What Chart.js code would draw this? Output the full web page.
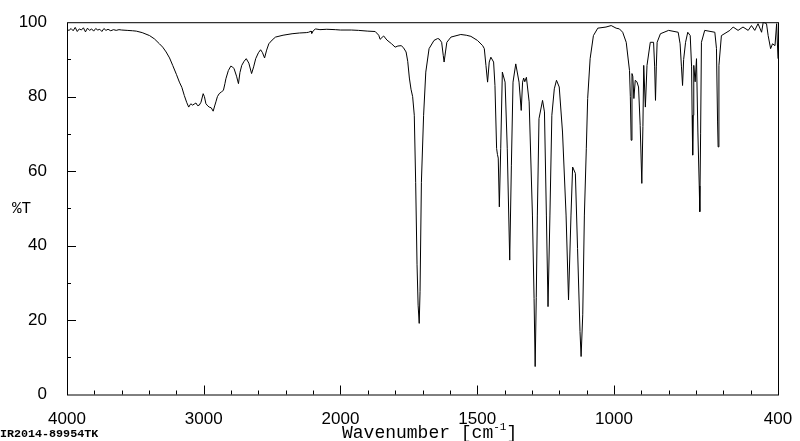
<!DOCTYPE html>
<html>
<head>
<meta charset="utf-8">
<script src="https://cdn.jsdelivr.net/npm/chart.js@4/dist/chart.umd.min.js"></script>
<style>
    body { margin: 0; background: #fff; }
    #wrap { position: relative; width: 800px; height: 441px; }
    .lbl { position: absolute; font-family: 'Liberation Mono', 'Courier New', monospace; color: #000; white-space: nowrap; }
    .lbl sup { font-size: 11px; position: relative; top: -1px; }
</style>
</head>
<body>
<div id="wrap">
    <canvas id="chart"></canvas>
    <div class="lbl" style="left:12px; top:201px; font-size:16px; line-height:16px;">%T</div>
    <div class="lbl" style="left:342px; top:419px; font-size:18px; line-height:18px;">Wavenumber [cm<sup>-1</sup>]</div>
    <div class="lbl" style="left:0px; top:429px; font-size:11.7px; line-height:11.7px; font-weight:bold;">IR2014-89954TK</div>
</div>
<script>
// spectrum (wavenumber in cm-1, transmittance in %)
const wavenumber = [
    4000, 3985, 3970, 3955, 3940, 3925, 3910, 3895, 3880, 3865, 3850, 3835, 3820, 3805, 3790, 3775,
    3760, 3745, 3730, 3715, 3700, 3680, 3660, 3640, 3620, 3600, 3560, 3520, 3493, 3450, 3396, 3360,
    3324, 3300, 3275, 3250, 3227, 3200, 3178, 3160, 3142, 3125, 3110, 3100, 3093, 3083, 3070, 3057,
    3045, 3033, 3020, 3004, 2995, 2984, 2970, 2960, 2945, 2931, 2920, 2911, 2900, 2887, 2870, 2856,
    2845, 2838, 2820, 2802, 2790, 2778, 2760, 2746, 2735, 2722, 2705, 2689, 2670, 2650, 2635, 2620,
    2600, 2584, 2570, 2555, 2540, 2524, 2500, 2475, 2420, 2354, 2300, 2250, 2233, 2215, 2210, 2200,
    2184, 2150, 2100, 2038, 2000, 1960, 1934, 1900, 1873, 1860, 1855, 1848, 1842, 1830, 1813, 1800,
    1790, 1778, 1770, 1760, 1754, 1748, 1742, 1736, 1730, 1725, 1720, 1716, 1712, 1709, 1704, 1696,
    1688, 1676, 1658, 1645, 1639, 1630, 1624, 1621, 1616, 1611, 1596, 1560, 1540, 1523, 1499, 1480,
    1474, 1468, 1462, 1456, 1450, 1440, 1435, 1429, 1426, 1423, 1419, 1414, 1408, 1398, 1390, 1381,
    1375, 1369, 1359, 1347, 1339, 1334, 1330, 1326, 1320, 1310, 1298, 1292, 1288, 1284, 1280, 1274,
    1261, 1254, 1247, 1241, 1234, 1227, 1218, 1210, 1200, 1188, 1175, 1166, 1157, 1151, 1141, 1133,
    1124, 1120, 1114, 1108, 1101, 1096, 1087, 1075, 1059, 1029, 1010, 992, 980, 968, 955, 943,
    940, 937, 934, 931, 927, 922, 916, 910, 904, 898, 894, 891, 885, 879, 867, 855,
    851, 848, 845, 842, 830, 800, 765, 758, 753, 749, 745, 738, 730, 721, 716, 714,
    712, 710, 708, 703, 698, 693, 688, 686, 683, 680, 668, 631, 625, 621, 619, 616,
    607, 576, 564, 546, 528, 509, 497, 485, 473, 460, 454, 442, 436, 427, 420, 411,
    405, 400,
];
const transmittance = [
    98.0, 97.8, 98.3, 97.7, 98.6, 97.5, 98.2, 97.9, 98.5, 97.4, 98.4, 97.8, 98.2, 97.6, 98.3, 97.9,
    98.1, 97.5, 98.3, 97.8, 98.1, 97.7, 98.0, 97.8, 98.0, 97.9, 97.8, 97.7, 97.6, 97.2, 96.4, 95.5,
    94.2, 93.3, 92.0, 90.4, 88.4, 86.0, 83.9, 82.5, 80.3, 78.5, 77.2, 77.8, 78.1, 77.7, 78.0, 78.3,
    77.6, 77.7, 78.5, 80.8, 80.0, 78.1, 77.5, 77.2, 77.0, 76.1, 77.5, 78.6, 80.0, 80.8, 81.3, 81.7,
    83.5, 84.8, 87.0, 88.2, 88.0, 87.5, 85.5, 83.5, 86.5, 88.4, 89.5, 90.2, 89.0, 86.2, 88.0, 90.2,
    91.8, 92.6, 91.8, 90.4, 92.5, 94.2, 95.2, 96.0, 96.5, 96.9, 97.1, 97.2, 97.3, 97.6, 97.0, 97.6,
    98.2, 98.0, 98.1, 98.0, 97.9, 97.9, 97.8, 97.6, 97.5, 96.5, 95.4, 95.9, 96.3, 95.2, 94.2, 93.3,
    93.6, 93.7, 93.2, 92.0, 89.5, 85.0, 82.0, 80.0, 75.0, 57.0, 35.0, 24.0, 19.1, 27.6, 57.0, 75.0,
    86.6, 92.9, 95.1, 95.6, 95.5, 94.6, 91.0, 89.3, 92.0, 94.6, 96.0, 96.7, 96.5, 96.2, 95.1, 93.7,
    92.9, 88.4, 83.9, 89.3, 90.6, 89.3, 83.0, 66.1, 64.5, 63.5, 50.4, 66.0, 86.6, 83.9, 66.0, 36.1,
    61.6, 83.9, 88.8, 83.9, 76.3, 83.9, 85.0, 84.0, 85.2, 78.6, 48.2, 25.8, 7.5, 26.0, 48.2, 74.1,
    79.0, 75.9, 48.2, 23.6, 48.2, 75.0, 82.1, 84.4, 82.6, 70.5, 48.2, 25.4, 48.2, 61.1, 59.4, 39.2,
    16.9, 10.2, 21.4, 48.2, 66.0, 79.5, 90.2, 96.4, 98.4, 98.7, 99.1, 98.4, 98.2, 97.3, 94.6, 87.0,
    80.0, 68.3, 86.2, 85.5, 79.5, 84.4, 84.0, 82.6, 72.3, 56.7, 72.0, 88.4, 77.2, 88.4, 94.6, 94.6,
    88.0, 79.0, 88.0, 94.6, 96.9, 97.8, 97.3, 94.2, 88.0, 83.0, 90.0, 94.6, 97.3, 96.4, 88.0, 75.0,
    64.3, 75.0, 88.4, 84.0, 90.2, 70.5, 56.0, 49.1, 70.0, 94.6, 97.8, 97.3, 92.9, 73.2, 66.5, 88.4,
    96.4, 97.8, 98.7, 97.8, 98.7, 97.8, 99.1, 97.8, 99.6, 97.3, 100.0, 99.6, 96.4, 92.9, 94.2, 93.7,
    99.6, 90.2,
];

// axis labels
const xTickLabels = [4000, 3000, 2000, 1500, 1000, 400];
const yTickLabels = [0, 20, 40, 60, 80, 100];

// the plot is drawn at half scale above 2000 cm-1
const toAxis = w => (w <= 2000 ? w : 2000 + (w - 2000) / 2);
const fromAxis = u => (u <= 2000 ? u : 2000 + (u - 2000) * 2);

const axisMarks = {
    id: 'axisMarks',
    afterDraw: function(chart) {
        const ctx = chart.ctx;
        const a = chart.chartArea;
        const x = chart.scales.x;
        const y = chart.scales.y;

        ctx.save();
        ctx.strokeStyle = '#000';
        ctx.lineWidth = 1;
        ctx.strokeRect(a.left + 0.5, a.top + 0.5, a.right - a.left, a.bottom - a.top);

        ctx.beginPath();
        for (let u = 500; u < 3000; u += 100) {
            const major = xTickLabels.map(toAxis).includes(u);
            const px = Math.round(x.getPixelForValue(u)) + 0.5;
            ctx.moveTo(px, a.bottom);
            ctx.lineTo(px, a.bottom - (major ? 9 : 4));
        }
        for (let v = 10; v < 100; v += 10) {
            const major = yTickLabels.includes(v);
            const py = Math.round(y.getPixelForValue(v)) + 0.5;
            ctx.moveTo(a.left, py);
            ctx.lineTo(a.left + (major ? 9 : 4), py);
        }
        ctx.stroke();
        ctx.restore();
    },
};

new Chart(document.getElementById('chart').getContext('2d'), {
    type: 'line',
    data: {
        datasets: [
            {
                data: wavenumber.map((w, i) => ({ x: toAxis(w), y: transmittance[i] })),
                borderColor: '#000',
                borderWidth: 1,
                pointRadius: 0,
                tension: 0,
            },
        ],
    },
    options: {
        responsive: true,
        maintainAspectRatio: false,
        animation: false,
        events: [],
        layout: {
            padding: { top: 21, right: 22, left: 0, bottom: 0 },
        },
        plugins: {
            legend: { display: false },
            tooltip: { enabled: false },
        },
        scales: {
            x: {
                type: 'linear',
                reverse: true,
                min: 400,
                max: 3000,
                afterBuildTicks: scale => {
                    scale.ticks = xTickLabels.map(w => ({ value: toAxis(w) }));
                },
                afterFit: scale => {
                    scale.height = 46.5;
                },
                ticks: {
                    autoSkip: false,
                    maxRotation: 0,
                    padding: 7,
                    color: '#000',
                    font: { family: "'Liberation Sans', Arial, sans-serif", size: 17 },
                    callback: value => String(fromAxis(value)),
                },
                grid: { display: false },
                border: { display: false },
            },
            y: {
                min: 0,
                max: 100,
                afterBuildTicks: scale => {
                    scale.ticks = yTickLabels.map(v => ({ value: v }));
                },
                afterFit: scale => {
                    scale.width = 67;
                },
                ticks: {
                    padding: 12,
                    color: '#000',
                    font: { family: "'Liberation Sans', Arial, sans-serif", size: 17 },
                },
                grid: { display: false },
                border: { display: false },
            },
        },
    },
    plugins: [axisMarks],
});
</script>
</body>
</html>
